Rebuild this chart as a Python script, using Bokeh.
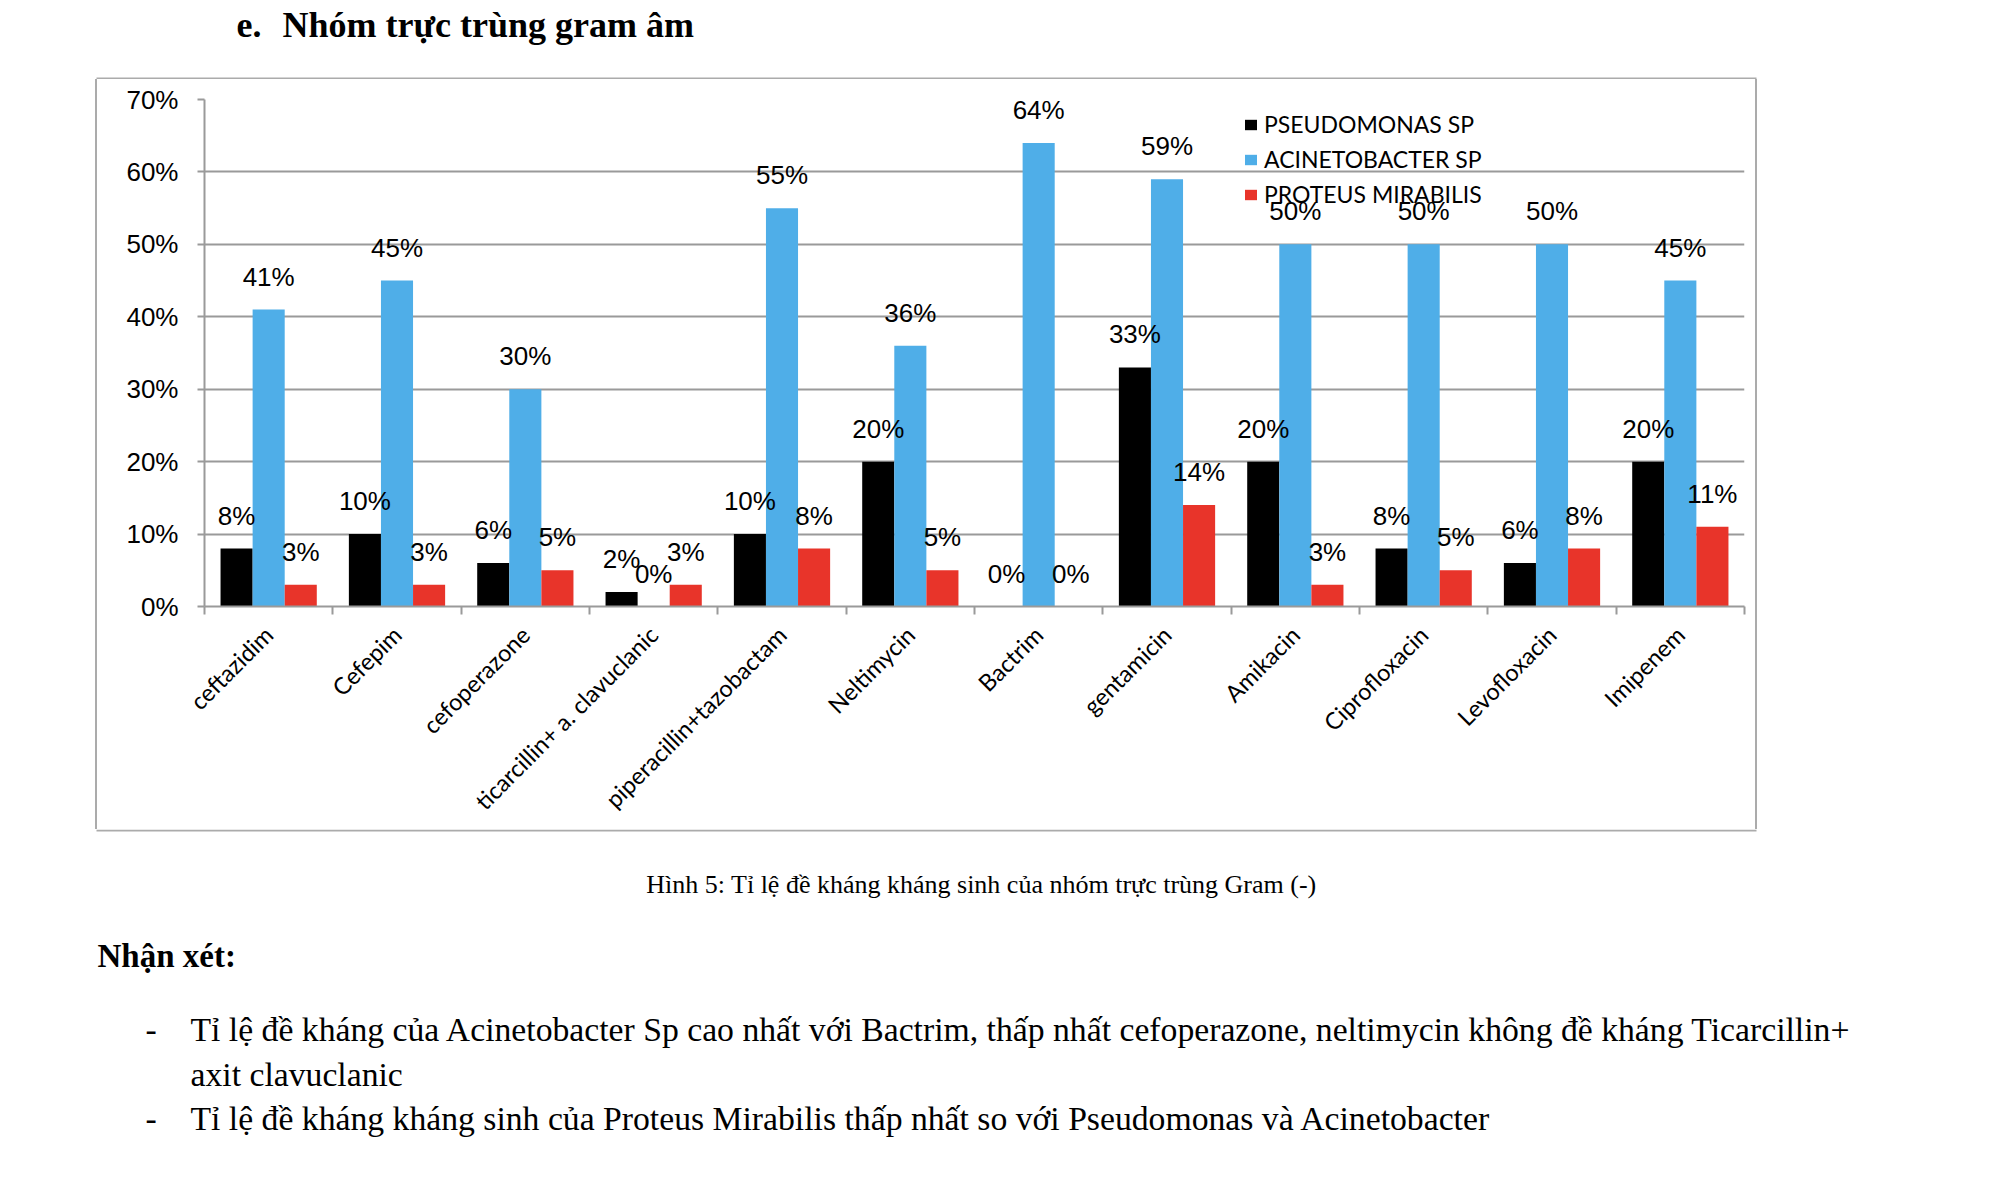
from math import pi
from bokeh.plotting import figure
from bokeh.models import ColumnDataSource, Range1d, FixedTicker, PrintfTickFormatter, Div
from bokeh.layouts import column, row
from bokeh.transform import dodge
from bokeh.core.properties import value
from bokeh.embed import file_html
from bokeh.resources import INLINE

# ---------------- data ----------------
categories = ["ceftazidim", "Cefepim", "cefoperazone", "ticarcillin+ a. clavuclanic",
              "piperacillin+tazobactam", "Neltimycin", "Bactrim", "gentamicin",
              "Amikacin", "Ciprofloxacin", "Levofloxacin", "Imipenem"]
pseudomonas = [8, 10, 6, 2, 10, 20, 0, 33, 20, 8, 6, 20]
acinetobacter = [41, 45, 30, 0, 55, 36, 64, 59, 50, 50, 50, 45]
proteus = [3, 3, 5, 3, 8, 5, 0, 14, 3, 5, 8, 11]
series_names = ["PSEUDOMONAS SP", "ACINETOBACTER SP", "PROTEUS MIRABILIS"]
series_colors = ["#000000", "#4FAEE8", "#E8342A"]
y_ticks = [0, 10, 20, 30, 40, 50, 60, 70]

heading_num = "e."
heading = "Nhóm trực trùng gram âm"
caption = "Hình 5: Tỉ lệ đề kháng kháng sinh của nhóm trực trùng Gram (-)"
remark_title = "Nhận xét:"
remark_lines = [
    "Tỉ lệ đề kháng của Acinetobacter Sp cao nhất với Bactrim,  thấp nhất cefoperazone, neltimycin không đề kháng  Ticarcillin+",
    "axit clavuclanic",
    "Tỉ lệ đề kháng kháng sinh của Proteus Mirabilis thấp nhất so với Pseudomonas và Acinetobacter",
]

GRID = "#9A9A9A"
BOX = "#ABABAB"
SERIF = value("Liberation Serif")

# ---------------- helpers ----------------
def blank(w, h, xr, yr):
    f = figure(width=w, height=h, x_range=xr, y_range=yr, output_backend="svg",
               toolbar_location=None, min_border=0,
               x_axis_location=None, y_axis_location=None)
    f.grid.visible = False
    f.outline_line_color = None
    f.background_fill_color = "white"
    f.border_fill_color = "white"
    return f

# ---------------- heading ----------------
head = blank(2000, 79, Range1d(0, 2000), Range1d(79, 0))
head.text(x=[236], y=[24], text=[heading_num], text_font=SERIF, text_font_style="bold",
          text_font_size="36px", text_baseline="alphabetic", text_color="black")
head.text(x=[282], y=[24], text=[heading], text_font=SERIF, text_font_style="bold",
          text_font_size="36px", text_baseline="alphabetic", text_color="black")
head.line(x=[96, 1756], y=[78, 78], line_color=BOX, line_width=2)

# ---------------- chart ----------------
n = len(categories)
xpos = [i + 0.5 for i in range(n)]
src = ColumnDataSource(dict(
    x=xpos,
    cat=categories,
    s0=pseudomonas, s1=acinetobacter, s2=proteus,
    l0=[f"{v}%" for v in pseudomonas],
    l1=[f"{v}%" for v in acinetobacter],
    l2=[f"{v}%" for v in proteus],
))

p = figure(width=1658, height=750, x_range=Range1d(0, n), y_range=Range1d(0, 70),
           output_backend="svg", toolbar_location=None,
           min_border_left=107, min_border_right=11, min_border_top=20, min_border_bottom=223)
p.outline_line_color = None
p.background_fill_color = "white"
p.border_fill_color = "white"

offsets = [-0.25, 0.0, 0.25]
for k, (off, name, col) in enumerate(zip(offsets, series_names, series_colors)):
    p.vbar(x=dodge("x", off, range=p.x_range), top=f"s{k}", width=0.25, source=src,
           fill_color=col, line_color=None, legend_label=name)
for k, off in enumerate(offsets):
    p.text(x=dodge("x", off, range=p.x_range), y=f"s{k}", text=f"l{k}", source=src,
           y_offset=-33, text_align="center", text_baseline="middle",
           text_font=value("Liberation Sans"), text_font_size="26px", text_color="black")

yt = FixedTicker(ticks=y_ticks)
p.yaxis.ticker = yt
p.ygrid.ticker = yt
p.yaxis.formatter = PrintfTickFormatter(format="%d%%")
p.yaxis.major_tick_out = 7
p.yaxis.major_tick_in = 0
p.yaxis.minor_tick_line_color = None
p.yaxis.major_tick_line_color = GRID
p.yaxis.major_tick_line_width = 2
p.yaxis.axis_line_color = GRID
p.yaxis.axis_line_width = 2
p.yaxis.major_label_text_font = "Liberation Sans"
p.yaxis.major_label_text_font_size = "26px"
p.yaxis.major_label_text_color = "black"
p.yaxis.major_label_standoff = 19

p.xaxis.ticker = FixedTicker(ticks=xpos, minor_ticks=list(range(n + 1)))
p.xaxis.major_label_overrides = {x: c for x, c in zip(xpos, categories)}
p.xaxis.major_tick_line_color = None
p.xaxis.major_tick_out = 8
p.xaxis.major_tick_in = 0
p.xaxis.minor_tick_out = 8
p.xaxis.minor_tick_in = 0
p.xaxis.minor_tick_line_color = GRID
p.xaxis.minor_tick_line_width = 2
p.xaxis.axis_line_color = GRID
p.xaxis.axis_line_width = 2
p.xaxis.major_label_orientation = pi / 4
p.xaxis.major_label_text_font = "Lato"
p.xaxis.major_label_text_font_size = "23.5px"
p.xaxis.major_label_text_color = "black"
p.xaxis.major_label_standoff = 16

p.xgrid.visible = False
p.ygrid.grid_line_color = GRID
p.ygrid.grid_line_width = 2

lg = p.legend[0]
lg.location = (1039, 398)
lg.padding = 0
lg.margin = 0
lg.spacing = 7
lg.glyph_width = 15
lg.glyph_height = 13
lg.label_standoff = 6
lg.label_height = 23
lg.label_text_font = "Lato"
lg.label_text_font_size = "23px"
lg.label_text_color = "black"
lg.background_fill_alpha = 0
lg.border_line_color = None

left_pad = Div(text=f'<div style="width:2px;height:750px;background:{BOX};margin-left:95px"></div>',
               width=97, height=750, margin=0)
right_pad = Div(text=f'<div style="width:2px;height:750px;background:{BOX};margin-left:0px"></div>',
                width=245, height=750, margin=0)

# ---------------- footer ----------------
foot = blank(2000, 358, Range1d(0, 2000), Range1d(1187, 829))
foot.line(x=[96, 1756], y=[830, 830], line_color=BOX, line_width=2)
foot.text(x=[981], y=[884], text=[caption], text_font=SERIF, text_font_size="26px",
          text_align="center", text_baseline="alphabetic", text_color="black")
foot.text(x=[97], y=[955], text=[remark_title], text_font=SERIF, text_font_style="bold",
          text_font_size="33px", text_baseline="alphabetic", text_color="black")
foot.text(x=[145, 145], y=[1029, 1118], text=["-", "-"], text_font=SERIF,
          text_font_size="33.7px", text_baseline="alphabetic", text_color="black")
foot.text(x=[190, 190, 190], y=[1029, 1074, 1118], text=remark_lines, text_font=SERIF,
          text_font_size="33.7px", text_baseline="alphabetic", text_color="black")

layout = column(head, row(left_pad, p, right_pad), foot)
open("out.html", "w").write(file_html(layout, INLINE))
